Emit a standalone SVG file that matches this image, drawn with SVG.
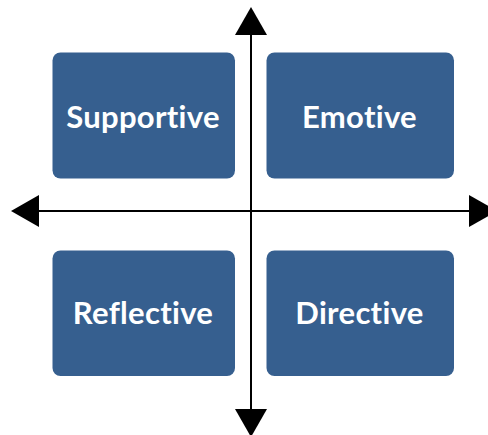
<svg xmlns="http://www.w3.org/2000/svg" width="488" height="435" viewBox="0 0 488 435">
<style>
.box{fill:#365F8F;}
.lbl{fill:#ffffff;font-family:Lato,"Liberation Sans",sans-serif;font-weight:bold;font-size:31px;text-anchor:middle;font-variant-ligatures:none;letter-spacing:0.3px;}
.ax{stroke:#000;stroke-width:2;fill:none;}
.head{fill:#000;}
</style>
<rect width="488" height="435" fill="#ffffff"/>
<g id="connectors">
<line class="ax" x1="251" y1="30" x2="251" y2="412"/>
<line class="ax" x1="35" y1="211" x2="472" y2="211"/>
<polygon class="head" points="251,7 235,35 267,35"/>
<polygon class="head" points="251,437 235,409 267,409"/>
<polygon class="head" points="11,211 39,195 39,227"/>
<polygon class="head" points="497,211 469,195 469,227"/>
</g>
<g id="supportive">
<rect class="box" x="52.5" y="52.5" width="182.5" height="126" rx="8"/>
<text class="lbl" x="143" y="128">Supportive</text>
</g>
<g id="emotive">
<rect class="box" x="266.5" y="52.5" width="187.5" height="126" rx="8"/>
<text class="lbl" x="359.5" y="128">Emotive</text>
</g>
<g id="reflective">
<rect class="box" x="52.5" y="250.5" width="182.5" height="125.5" rx="8"/>
<text class="lbl" x="143" y="324">Reflective</text>
</g>
<g id="directive">
<rect class="box" x="266.5" y="250.5" width="187.5" height="125.5" rx="8"/>
<text class="lbl" x="359.5" y="324">Directive</text>
</g>
</svg>
